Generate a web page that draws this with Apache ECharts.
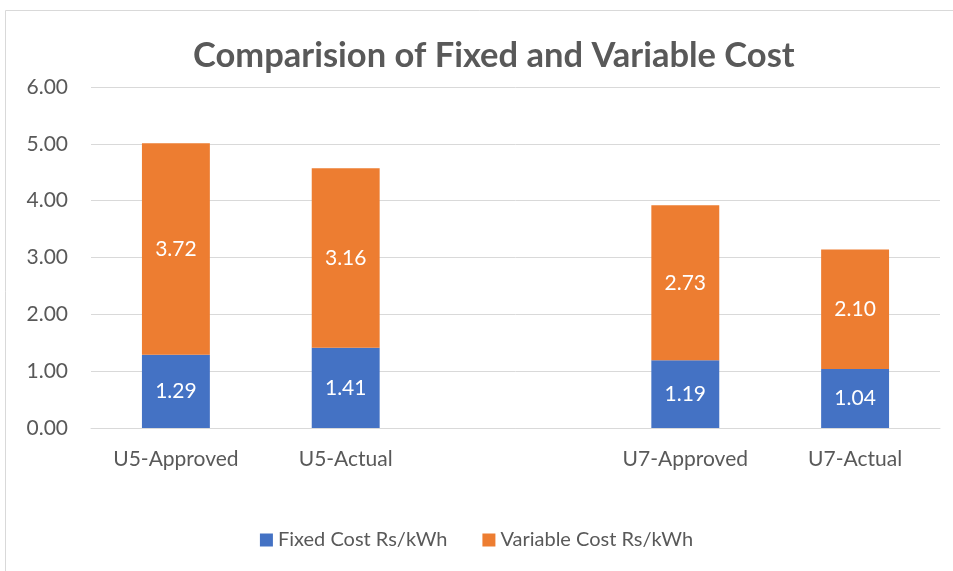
<!DOCTYPE html>
<html><head><meta charset="utf-8">
<script src="https://cdn.jsdelivr.net/npm/echarts@6/dist/echarts.min.js"></script>
<style>html,body{margin:0;padding:0;background:#fff}#c{width:953px;height:571px}</style>
</head><body><div id="c"></div>
<script>
const categories = ['U5-Approved', 'U5-Actual', '', 'U7-Approved', 'U7-Actual'];
const fixedCost = [1.29, 1.41, null, 1.19, 1.04];
const variableCost = [3.72, 3.16, null, 2.73, 2.10];
const seriesNames = ['Fixed Cost Rs/kWh', 'Variable Cost Rs/kWh'];
const yTicks = [0, 1, 2, 3, 4, 5, 6];

const FONT = 'Lato';
const chart = echarts.init(document.getElementById('c'), null, {renderer: 'canvas'});
const lbl = {show: true, position: 'inside', color: '#fff', fontFamily: FONT, fontSize: 21,
  formatter: p => p.value == null ? '' : Number(p.value).toFixed(2)};
chart.setOption({
  animation: false,
  backgroundColor: '#fff',
  graphic: [{type: 'rect', shape: {x: 5.5, y: 10.5, width: 960, height: 580},
    style: {fill: 'none', stroke: '#d9d9d9', lineWidth: 1}, silent: true, z: -1}],
  title: {text: 'Comparision of Fixed and Variable Cost', left: 188, top: 33,
    textStyle: {fontFamily: FONT, fontSize: 34.5, fontWeight: 'bold', color: '#595959'}},
  grid: {left: 91, right: 13, top: 87, bottom: 143, containLabel: false},
  legend: {bottom: 16, left: 'center', itemWidth: 13, itemHeight: 13, itemGap: 35,
    icon: 'rect', textStyle: {fontFamily: FONT, fontSize: 20, color: '#595959'},
    data: seriesNames},
  xAxis: {type: 'category', data: categories,
    axisLine: {lineStyle: {color: '#d9d9d9'}}, axisTick: {show: false},
    axisLabel: {fontFamily: FONT, fontSize: 21, color: '#595959', margin: 21, interval: 0}},
  yAxis: {type: 'value', min: yTicks[0], max: yTicks[yTicks.length - 1], interval: 1,
    axisLine: {show: false}, axisTick: {show: false},
    splitLine: {lineStyle: {color: '#d9d9d9', width: 1}},
    axisLabel: {fontFamily: FONT, fontSize: 21, color: '#595959', margin: 23,
      formatter: v => v.toFixed(2)}},
  series: [
    {name: seriesNames[0], type: 'bar', stack: 'a', data: fixedCost, barWidth: '40%',
      itemStyle: {color: '#4472C4'}, label: lbl},
    {name: seriesNames[1], type: 'bar', stack: 'a', data: variableCost, barWidth: '40%',
      itemStyle: {color: '#ED7D31'}, label: lbl}
  ]
});
</script></body></html>
